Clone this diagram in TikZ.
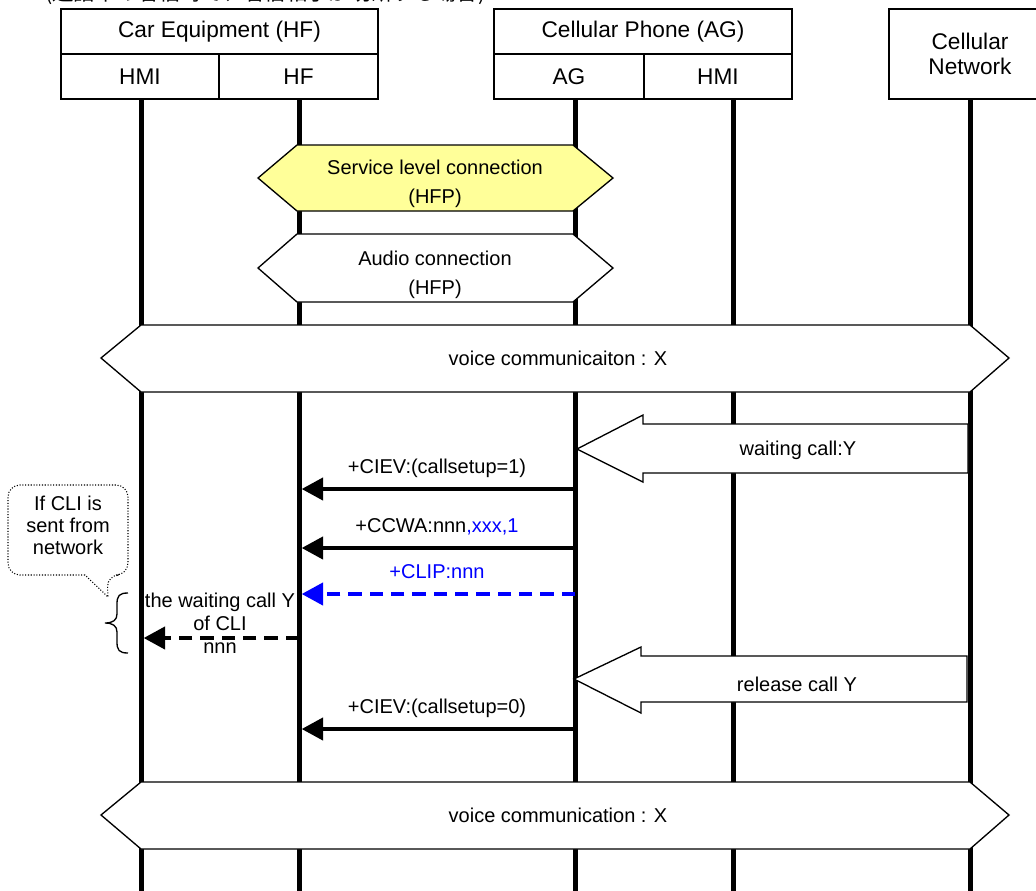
\documentclass[tikz,border=0pt]{standalone}
\usepackage{fontspec}
\setmainfont{Liberation Sans}
\newfontfamily\jpfont{Noto Sans CJK JP}
\usetikzlibrary{arrows.meta}

\definecolor{slyellow}{RGB}{255,255,153}
\definecolor{clipblue}{RGB}{0,0,255}

\tikzset{
  cell/.style={draw, line width=1pt, inner sep=0pt, font=\fontsize{17}{18.75}\selectfont},
  lifeline/.style={line width=3.75pt},
  band/.style={draw, line width=1pt, fill=white},
  msg/.style={line width=3pt, -{Triangle[length=16pt,width=16.5pt]}, shorten >=2pt},
  lbl/.style={font=\fontsize{15}{17.25}\selectfont, inner sep=0pt},
  msglbl/.style={lbl, text height=11pt, text depth=3pt, above=7pt},
  callout/.style={line width=0.8pt, dash pattern=on 0.8pt off 1.3pt},
}

\begin{document}
\begin{tikzpicture}[x=0.75pt, y=-0.75pt]
        \useasboundingbox (0,0) rectangle (1036,890);
        \clip (0,0) rectangle (1036,890);
        % title, cut at the top edge
        \node[anchor=base west, inner sep=0pt, font=\jpfont\fontsize{16}{18}\selectfont] (title) at (45,0.5) {(通話中の着信時で、着信相手が切断する場合)};
        % header boxes
        \node[cell, minimum width=237.75pt, minimum height=33.75pt] (car) at (219.5,31.5) {Car Equipment (HF)};
        \node[cell, minimum width=118.5pt, minimum height=33.75pt] (carhmi) at (140,76.5) {HMI};
        \node[cell, minimum width=119.25pt, minimum height=33.75pt] (carhf) at (298.5,76.5) {HF};
        \node[cell, minimum width=223.5pt, minimum height=33.75pt] (phone) at (643,31.5) {Cellular Phone (AG)};
        \node[cell, minimum width=112.5pt, minimum height=33.75pt] (phoneag) at (569,76.5) {AG};
        \node[cell, minimum width=111pt, minimum height=33.75pt] (phonehmi) at (718,76.5) {HMI};
        \node[cell, minimum width=121.5pt, minimum height=67.5pt, align=center] (net) at (970,54) {Cellular\\Network};
        % lifelines
        \coordinate (lhmi) at (141,99);
        \coordinate (lhf) at (299,99);
        \coordinate (lag) at (575,99);
        \coordinate (lphmi) at (733,99);
        \coordinate (lnet) at (970,99);
        \foreach \lf in {lhmi,lhf,lag,lphmi,lnet}
                \draw[lifeline] (\lf) -- ++(0,800);
        % connections
        \draw[band, fill=slyellow] (258,178) -- (297,145) -- (573,145) -- (613,178) -- (573,211) -- (297,211) -- cycle ;
        \node[lbl, align=center] (slc) at (435,183.5) {Service level connection\\[4.5pt](HFP)};
        \draw[band] (258,268) -- (297,234) -- (573,234) -- (613,268) -- (573,302) -- (297,302) -- cycle ;
        \node[lbl, align=center] (audio) at (435,274.5) {Audio connection\\[4.5pt](HFP)};
        \draw[band] (101,358) -- (141,325) -- (970,325) -- (1009,358) -- (970,392) -- (141,392) -- cycle ;
        \node[lbl] (voicex) at (558,358) {voice communicaiton : X};
        % calls from the network
        \draw[band] (577,449) -- (643,415) -- ++(0,9) -- (968,424) -- ++(0,49) -- (643,473) -- ++(0,9) -- cycle ;
        \node[lbl] (waitcall) at (798,450) {waiting call:Y};
        \draw[band] (574,679) -- (641,647) -- ++(0,9) -- (967,656) -- ++(0,46) -- (641,702) -- ++(0,11) -- cycle ;
        \node[lbl] (relcall) at (797,684) {release call Y};
        % messages
        \draw[msg] (lag |- 0,489) -- node[msglbl] {+CIEV:(callsetup=1)} (lhf |- 0,489);
        \draw[msg] (lag |- 0,548) -- node[msglbl] {+CCWA:nnn\textcolor{clipblue}{,xxx,1}} (lhf |- 0,548);
        \draw[msg, clipblue, dash pattern=on 10pt off 6pt] (lag |- 0,594) -- node[msglbl, text=clipblue] {+CLIP:nnn} (lhf |- 0,594);
        \draw[msg, dash pattern=on 10pt off 6pt] (lhf |- 0,638) -- (lhmi |- 0,638);
        \node[lbl, align=center] (clitext) at (220,623) {the waiting call Y\\of CLI\\nnn};
        \draw[msg] (lag |- 0,729) -- node[msglbl] {+CIEV:(callsetup=0)} (lhf |- 0,729);
        \draw[band] (101,815) -- (141,782) -- (970,782) -- (1009,815) -- (970,849) -- (141,849) -- cycle ;
        \node[lbl] (voicex2) at (558,815) {voice communication : X};
        % note and brace
        \draw[callout] (85,575) [rounded corners=9pt] -- (8,575) -- (8,485) -- (128,485) -- (128,575) -- (107,575) [sharp corners] -- (108,597) -- cycle ;
        \node[lbl, align=center, font=\fontsize{15}{16.5}\selectfont] (note) at (68,525) {If CLI is\\sent from\\network};
        \draw[line width=1pt] (128,593) .. controls (119,593) and (117,596) .. (117,604) -- (117,614) .. controls (117,620) and (113,623) .. (105,623) .. controls (113,623) and (117,626) .. (117,632) -- (117,642) .. controls (117,650) and (119,653) .. (128,653) ;
\end{tikzpicture}
\end{document}
